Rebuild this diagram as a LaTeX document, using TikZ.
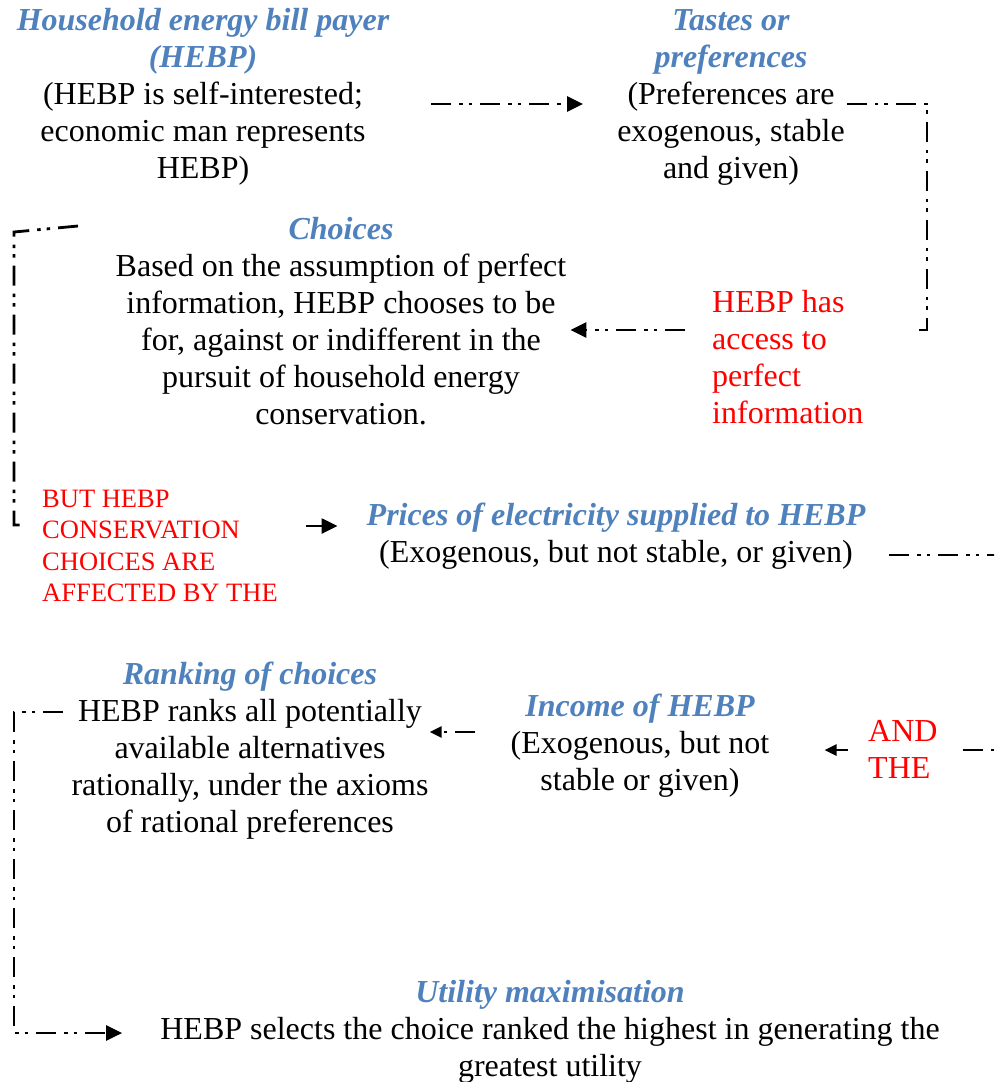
\documentclass[tikz,border=0pt]{standalone}
\usepackage{fontspec}
\setmainfont{Liberation Serif}
\usetikzlibrary{arrows.meta}
\definecolor{hblue}{HTML}{4F81BD}
\definecolor{hred}{HTML}{FF0000}
\newcommand{\hd}[1]{\textcolor{hblue}{\bfseries\itshape #1}}
\tikzset{
  txt/.style={inner sep=0pt, align=center, font=\rmfamily\fontsize{32}{37}\selectfont},
  redtxt/.style={inner sep=0pt, align=left, text=hred, font=\rmfamily\fontsize{32}{37}\selectfont},
  redsmall/.style={inner sep=0pt, align=left, text=hred, font=\rmfamily\fontsize{26.5}{31.3}\selectfont},
  conn/.style={line width=2.8pt, dash pattern=on 20pt off 8pt on 3.5pt off 6pt on 3.5pt off 8pt},
  solidconn/.style={line width=2.6pt},
  bigtip/.style={-{Triangle[length=16pt,width=15pt]}},
  smalltip/.style={-{Triangle[length=12pt,width=11pt]}},
}
\begin{document}
\begin{tikzpicture}[x=1pt,y=-1pt]
\clip (0,0) rectangle (994,1082);
\fill[white] (0,0) rectangle (994,1082);

\node[txt] (hebp) at (203,97) {\hd{Household energy bill payer}\\\hd{(HEBP)}\\(HEBP is self-interested;\\economic man represents\\HEBP)};
\node[txt] (tastes) at (731,97) {\hd{Tastes or}\\\hd{preferences}\\(Preferences are\\exogenous, stable\\and given)};
\node[txt] (choices) at (341,321) {\hd{Choices}\\Based on the assumption of perfect\\information, HEBP chooses to be\\for, against or indifferent in the\\pursuit of household energy\\conservation.};
\node[redtxt, anchor=west] (access) at (712,357) {HEBP has\\access to\\perfect\\information};
\node[redsmall, anchor=west] (but) at (42,546) {BUT HEBP\\CONSERVATION\\CHOICES ARE\\AFFECTED BY THE};
\node[txt] (prices) at (616,536) {\hd{Prices of electricity supplied to HEBP}\\(Exogenous, but not stable, or given)};
\node[redtxt, anchor=west] (and) at (868,749) {AND\\THE};
\node[txt] (income) at (640,746) {\hd{Income of HEBP}\\(Exogenous, but not\\stable or given)};
\node[txt] (ranking) at (250,751) {\hd{Ranking of choices}\\HEBP ranks all potentially\\available alternatives\\rationally, under the axioms\\of rational preferences};
\node[txt] (utility) at (550,1032) {\hd{Utility maximisation}\\HEBP selects the choice ranked the highest in generating the\\greatest utility};

% HEBP -> Tastes
\draw[conn,bigtip] ([shift={(42,7)}]hebp.east) -- ([shift={(-34,7)}]tastes.west);
% Tastes -> down to access
\draw[conn] ([shift={(2,7)}]tastes.east) -- (927,104) -- (927,330) -- (916,330);
% access -> choices
\draw[conn,bigtip] ([shift={(-27,-27)}]access.west) -- ([shift={(4,9)}]choices.east);
% choices -> but
\draw[conn] (78,226) -- (14,232) -- (14,525) -- ([shift={(-20,-21)}]but.west);
% but -> prices
\draw[solidconn,bigtip] ([shift={(28,-20)}]but.east) -- ([shift={(-29,-10)}]prices.west);
% prices -> and
\draw[conn] ([shift={(24,19)}]prices.east) -- (1010,555) -- (1010,750) -- ([shift={(22,1)}]and.east);
% and -> income
\draw[solidconn,smalltip] ([shift={(-20,1)}]and.west) -- ([shift={(55,4)}]income.east);
% income -> ranking
\draw[conn,smalltip] ([shift={(-35,-14)}]income.west) -- ([shift={(1,-19)}]ranking.east);
% ranking -> utility
\draw[conn,bigtip] (63,712) -- (14,712) -- (14,1033) -- ([shift={(-38,1)}]utility.west);
\end{tikzpicture}
\end{document}
